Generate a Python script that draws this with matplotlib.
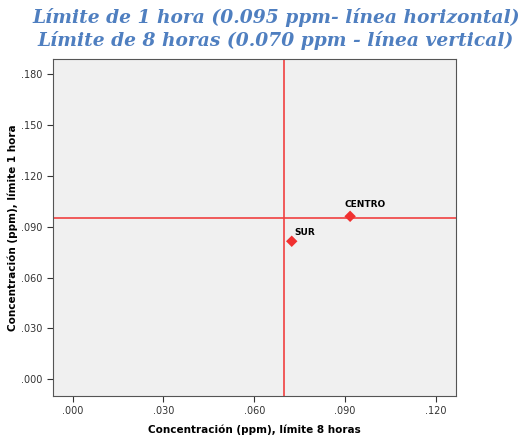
import numpy as np
import matplotlib.pyplot as plt

# estaciones y concentraciones de ozono (ppm)
estaciones = ["CENTRO", "SUR"]
conc_8h = [0.0917, 0.0724]
conc_1h = [0.0961, 0.0814]
limite_1h = 0.095
limite_8h = 0.070

xticks = [0.000, 0.030, 0.060, 0.090, 0.120]
yticks = [0.000, 0.030, 0.060, 0.090, 0.120, 0.150, 0.180]

# desplazamiento de las etiquetas (puntos)
desp = [(-4, 5), (2, 3)]

fig = plt.figure(figsize=(5.31, 4.38), dpi=100)
ax = fig.add_axes([52.5/531, 1-396/438, (456-52.5)/531, (396-58.7)/438])
ax.set_facecolor('#f0f0f0')

ax.axhline(limite_1h, color='#f04040', lw=1.2, zorder=2)
ax.axvline(limite_8h, color='#f04040', lw=1.2, zorder=2)
ax.scatter(conc_8h, conc_1h, marker='D', s=34, color='#f03030', zorder=3, edgecolors='none')
for nom, x, y, d in zip(estaciones, conc_8h, conc_1h, desp):
    ax.annotate(nom, (x, y), xytext=d, textcoords='offset points',
                fontsize=6.5, fontweight='bold', ha='left', va='bottom')

ax.set_xlim(-0.00668, 0.1267)
ax.set_ylim(-0.0098, 0.189)
ax.set_xticks(xticks)
ax.set_yticks(yticks)
ax.set_xticklabels(['.%03d' % round(v*1000) for v in xticks])
ax.set_yticklabels(['.%03d' % round(v*1000) for v in yticks])
ax.tick_params(labelsize=7, length=4, colors='#333333')
for s in ax.spines.values():
    s.set_color('#555555')

ax.set_xlabel('Concentración (ppm), límite 8 horas', fontsize=7.5, fontweight='bold', labelpad=6)
ax.set_ylabel('Concentración (ppm), límite 1 hora', fontsize=7.5, fontweight='bold')
ax.yaxis.set_label_coords(-34/403.5, 0.5)

fig.text(0.52, 0.934, 'Límite de 1 hora (0.095 ppm- línea horizontal)\nLímite de 8 horas (0.070 ppm - línea vertical)',
         ha='center', va='center', fontsize=13.4, fontstyle='italic', fontweight='bold',
         family='DejaVu Serif', color='#4f7fc0', linespacing=1.3)

plt.savefig('out.png', dpi=100)
